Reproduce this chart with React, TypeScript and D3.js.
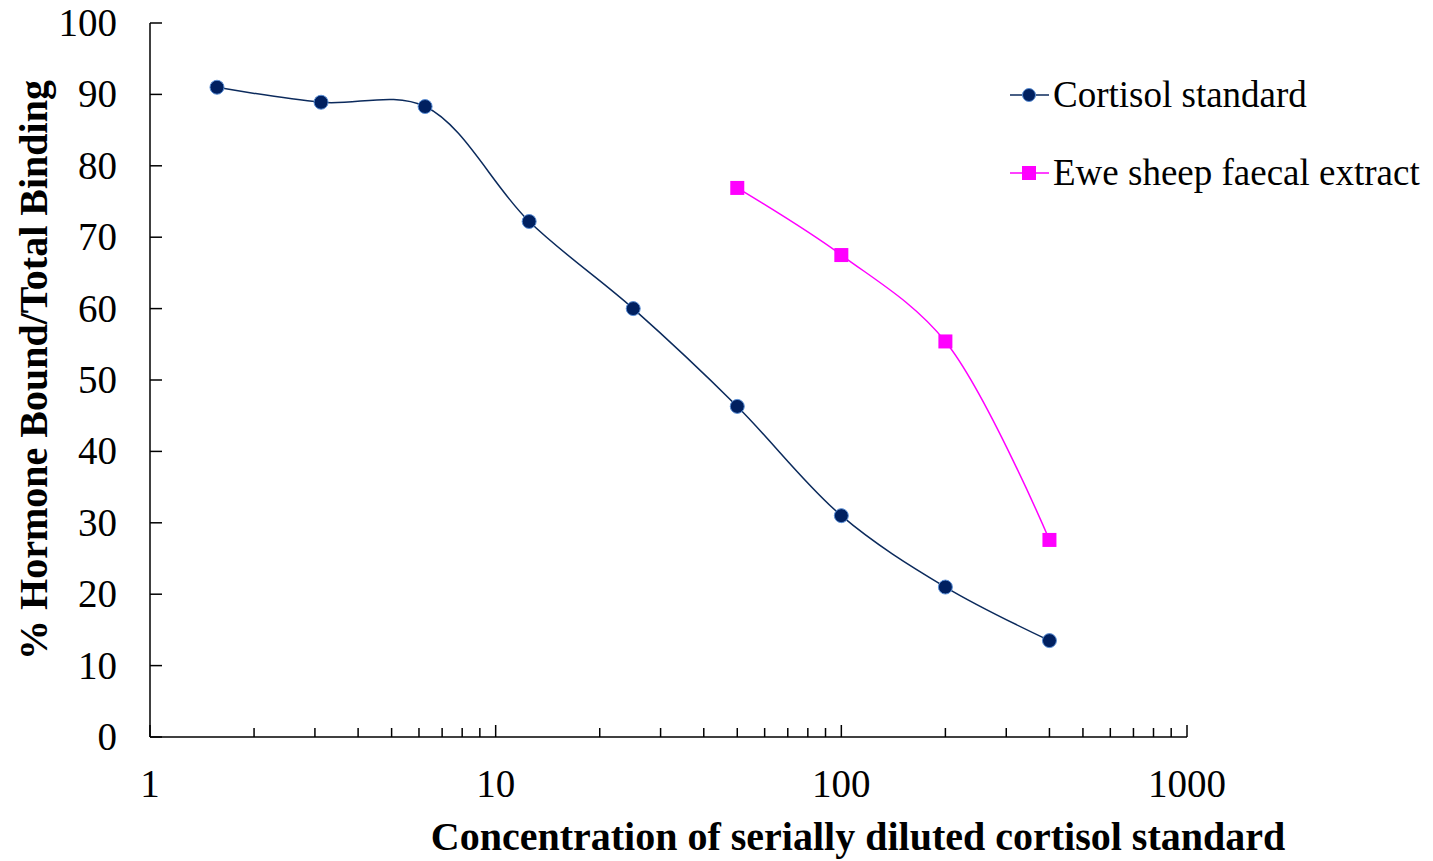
import React from "react";
import * as d3 from "d3";

const concentrations = [1.5625, 3.125, 6.25, 12.5, 25, 50, 100, 200, 400];
const cortisolValues = [91.0, 88.9, 88.3, 72.2, 60.0, 46.3, 31.0, 21.0, 13.5];
const eweConcentrations = [50, 100, 200, 400];
const eweValues = [76.9, 67.5, 55.4, 27.6];
const yTicks = [0, 10, 20, 30, 40, 50, 60, 70, 80, 90, 100];
const xMajorTicks = [1, 10, 100, 1000];
const seriesNames = ["Cortisol standard", "Ewe sheep faecal extract"];

const W = 1433;
const H = 861;
const left = 150;
const right = 1187;
const top = 23;
const bottom = 737;

const FONT = "'Liberation Serif', 'Times New Roman', serif";
const NAVY = "#0b2a5c";
const MAGENTA = "#ff00ff";

export default function App() {
  const x = d3.scaleLog().domain([1, 1000]).range([left, right]);
  const y = d3.scaleLinear().domain([0, 100]).range([bottom, top]);

  const minor: number[] = [];
  for (let d = 1; d < 1000; d *= 10) {
    for (let k = 2; k <= 9; k++) minor.push(d * k);
  }

  const line = d3
    .line<[number, number]>()
    .x((d) => x(d[0]))
    .y((d) => y(d[1]))
    .curve(d3.curveCatmullRom.alpha(0.5));

  const cort: [number, number][] = concentrations.map((c, i) => [c, cortisolValues[i]]);
  const ewe: [number, number][] = eweConcentrations.map((c, i) => [c, eweValues[i]]);

  return (
    <svg width={W} height={H} style={{ position: "absolute", left: 0, top: 0, background: "#fff" }}>
      {/* axes */}
      <line x1={left} x2={left} y1={top} y2={bottom} stroke="#000" strokeWidth={1.5} />
      <line x1={left} x2={right} y1={bottom} y2={bottom} stroke="#000" strokeWidth={1.5} />
      {yTicks.map((t) => (
        <g key={"y" + t}>
          <line x1={left} x2={left + 12} y1={y(t)} y2={y(t)} stroke="#000" strokeWidth={1.5} />
          <text x={117} y={y(t) + 13} textAnchor="end" fontFamily={FONT} fontSize={39} fill="#000">
            {t}
          </text>
        </g>
      ))}
      {xMajorTicks.map((t) => (
        <g key={"x" + t}>
          <line x1={x(t)} x2={x(t)} y1={bottom} y2={bottom - 12} stroke="#000" strokeWidth={1.5} />
          <text x={x(t)} y={797} textAnchor="middle" fontFamily={FONT} fontSize={39} fill="#000">
            {t}
          </text>
        </g>
      ))}
      {minor.map((t) => (
        <line key={"m" + t} x1={x(t)} x2={x(t)} y1={bottom} y2={bottom - 9} stroke="#000" strokeWidth={1.5} />
      ))}

      {/* axis titles */}
      <text
        x={858}
        y={850}
        textAnchor="middle"
        fontFamily={FONT}
        fontWeight="bold"
        fontSize={40}
        fill="#000"
      >
        Concentration of serially diluted cortisol standard
      </text>
      <text
        transform={`translate(47, 370) rotate(-90)`}
        textAnchor="middle"
        fontFamily={FONT}
        fontWeight="bold"
        fontSize={40}
        fill="#000"
      >
        % Hormone Bound/Total Binding
      </text>

      {/* series */}
      <path d={line(cort) || ""} fill="none" stroke={NAVY} strokeWidth={1.5} />
      {cort.map((d, i) => (
        <circle key={"c" + i} cx={x(d[0])} cy={y(d[1])} r={7} fill="#002060" stroke="#5b8fd6" strokeWidth={1} />
      ))}
      <path d={line(ewe) || ""} fill="none" stroke={MAGENTA} strokeWidth={1.5} />
      {ewe.map((d, i) => (
        <rect key={"e" + i} x={x(d[0]) - 7} y={y(d[1]) - 7} width={14} height={14} fill={MAGENTA} />
      ))}

      {/* legend */}
      <g>
        <line x1={1010} x2={1049} y1={95} y2={95} stroke={NAVY} strokeWidth={1.5} />
        <circle cx={1029} cy={95} r={6.5} fill="#002060" stroke="#5b8fd6" strokeWidth={1} />
        <text x={1053} y={107} fontFamily={FONT} fontSize={37} fill="#000">
          {seriesNames[0]}
        </text>
        <line x1={1010} x2={1049} y1={173} y2={173} stroke={MAGENTA} strokeWidth={1.5} />
        <rect x={1022} y={166} width={14} height={14} fill={MAGENTA} />
        <text x={1053} y={185} fontFamily={FONT} fontSize={37} fill="#000">
          {seriesNames[1]}
        </text>
      </g>
    </svg>
  );
}
